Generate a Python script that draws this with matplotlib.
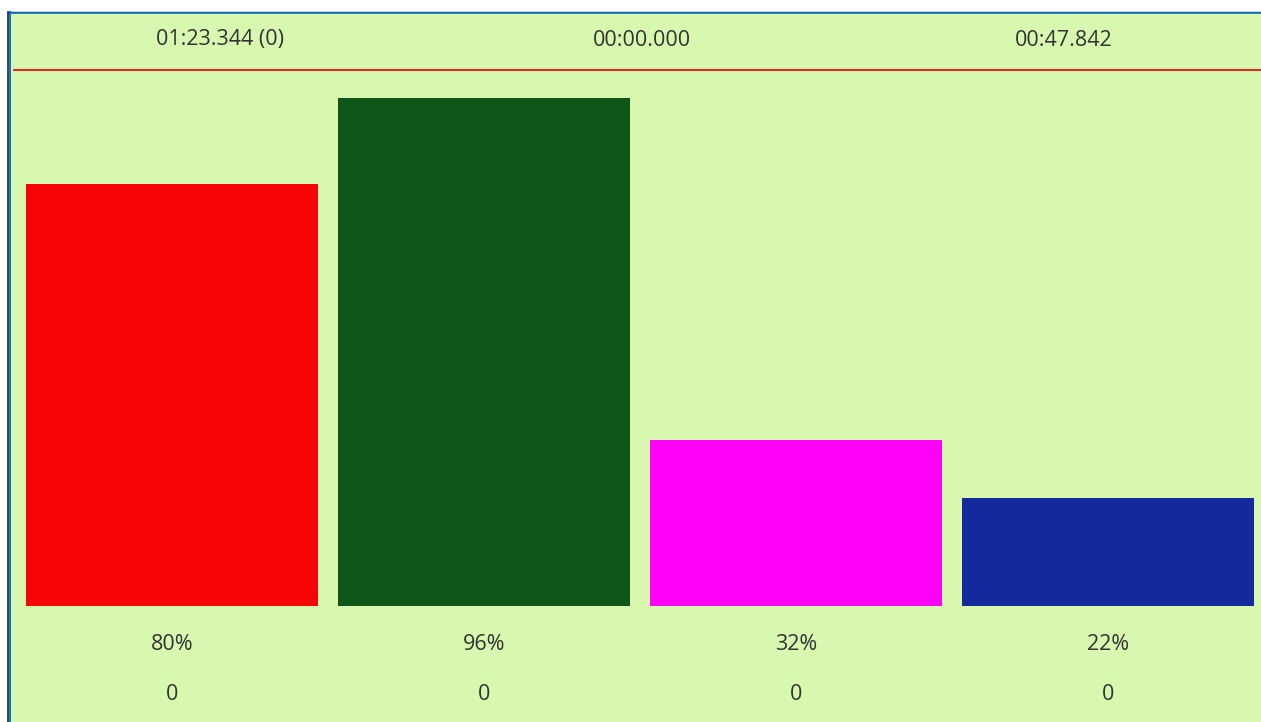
import matplotlib
matplotlib.use("Agg")
import matplotlib.pyplot as plt
from matplotlib.patches import Rectangle
from matplotlib.lines import Line2D

W, H = 1261, 722
DPI = 100

categories = ["A", "B", "C", "D"]
bar_heights = [79.8, 96.0, 31.4, 20.4]          # bar lengths as drawn (% of full scale)
percent_labels = ["80%", "96%", "32%", "22%"]   # labels printed under the bars
bottom_labels = ["0", "0", "0", "0"]
bar_colors = ["#f70505", "#0e5718", "#ff00f6", "#122a9b"]
header_labels = ["01:23.344 (0)", "00:00.000", "00:47.842"]

BG = "#d8f8b0"
TXT = "#333333"
FS = 15.5
plt.rcParams['font.family'] = ['Open Sans', 'DejaVu Sans']

fig = plt.figure(figsize=(W / DPI, H / DPI), dpi=DPI, facecolor="white")

def fx(px):
    return px / W

def fy(py):
    return 1 - py / H

# green panel background
fig.patches.append(Rectangle((fx(10), 0), 1 - fx(10), fy(13), transform=fig.transFigure,
                             facecolor=BG, edgecolor="none", zorder=-5))
# borders: dark outer + blue inner
fig.add_artist(Line2D([fx(8), 1], [fy(12), fy(12)], transform=fig.transFigure, color="#1b2530", lw=1.0))
fig.add_artist(Line2D([fx(9), 1], [fy(13.3), fy(13.3)], transform=fig.transFigure, color="#0a74c8", lw=1.2))
fig.add_artist(Line2D([fx(8.3), fx(8.3)], [0, fy(12)], transform=fig.transFigure, color="#1b2530", lw=1.2))
fig.add_artist(Line2D([fx(9.6), fx(9.6)], [0, fy(12)], transform=fig.transFigure, color="#0a74c8", lw=1.4))

# red header separator
fig.add_artist(Line2D([fx(14), 1], [fy(70), fy(70)], transform=fig.transFigure, color="#f01010", lw=1.3))

# header texts
for i, lab in enumerate(header_labels):
    cx = 220 + i * 422
    fig.text(fx(cx), fy(40), lab, ha="center", va="center", fontsize=FS, color=TXT)

# bar axes
ax_left, ax_right = 16, 1261
ax_top, ax_bottom = 77, 606
ax = fig.add_axes([fx(ax_left), fy(ax_bottom), fx(ax_right) - fx(ax_left), (ax_bottom - ax_top) / H])
ax.set_facecolor("none")
slot = 312.0
ax.set_xlim(-0.5, -0.5 + (ax_right - ax_left) / slot)
ax.set_ylim(0, 100)
xs = list(range(len(categories)))
ax.bar(xs, bar_heights, width=292 / slot, color=bar_colors, edgecolor="none")
ax.axis("off")

for i, (p, b) in enumerate(zip(percent_labels, bottom_labels)):
    cx = ax_left + (i + 0.5) * slot
    fig.text(fx(cx), fy(645), p, ha="center", va="center", fontsize=FS, color=TXT)
    fig.text(fx(cx), fy(695), b, ha="center", va="center", fontsize=FS, color=TXT)

fig.savefig("out.png", dpi=DPI, facecolor="white")
